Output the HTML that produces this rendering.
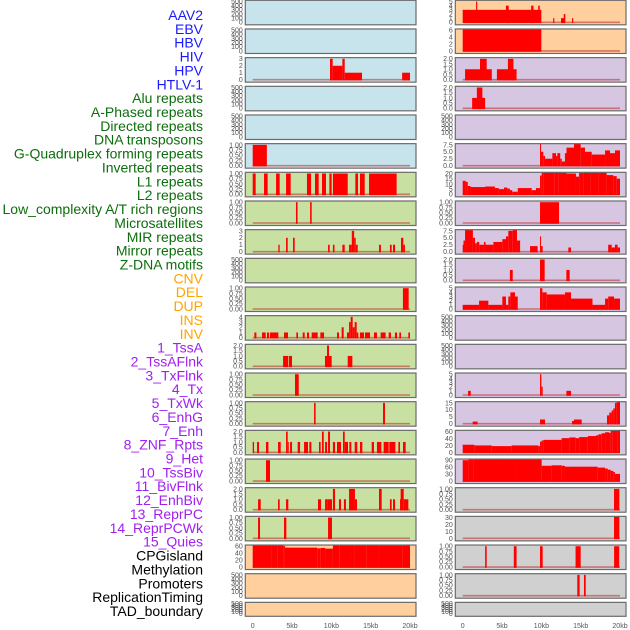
<!DOCTYPE html>
<html><head><meta charset="utf-8"><style>
html,body{margin:0;padding:0;background:#fff;}
svg{display:block;font-family:"Liberation Sans",sans-serif;}
</style></head><body>
<svg id="chart" width="630" height="630" viewBox="0 0 630 630" xmlns="http://www.w3.org/2000/svg"></svg>
<script>
const rowLabels = ["AAV2","EBV","HBV","HIV","HPV","HTLV-1","Alu repeats","A-Phased repeats","Directed repeats","DNA transposons","G-Quadruplex forming repeats","Inverted repeats","L1 repeats","L2 repeats","Low_complexity A/T rich regions","Microsatellites","MIR repeats","Mirror repeats","Z-DNA motifs","CNV","DEL","DUP","INS","INV","1_TssA","2_TssAFlnk","3_TxFlnk","4_Tx","5_TxWk","6_EnhG","7_Enh","8_ZNF_Rpts","9_Het","10_TssBiv","11_BivFlnk","12_EnhBiv","13_ReprPC","14_ReprPCWk","15_Quies","CPGisland","Methylation","Promoters","ReplicationTiming","TAD_boundary"];
const labelGroups = [6,13,5,15,5];
const groupColors = ["#1a1aff","#0c6e0c","#ffa500","#a020f0","#000000"];
const xTickValues = [0,5,10,15,20];
const xTickLabels = ["0","5kb","10kb","15kb","20kb"];
const leftBg = ["b","b","b","b","b","b","g","g","g","g","g","g","g","g","g","g","g","g","g","o","o","o"];
const rightBg = ["o","o","p","p","p","p","p","p","p","p","p","p","p","p","p","p","p","g2","g2","g2","g2","g2"];
const E=[[0,100,200,300,400,500],0], U1=[[0,0.25,0.5,0.75,1],2], T2=[[0,0.5,1,1.5,2],1];
const leftTicks = [E,E,[[0,1,2,3],0],E,E,U1,U1,U1,[[0,1,2,3],0],E,U1,[[0,1,2,3,4],0],T2,U1,U1,T2,U1,T2,U1,[[0,20,40,60],0],E,E];
const rightTicks = [[[0,1,2,3,4,5],0],[[0,2,4,6],0],T2,T2,E,[[0,2.5,5,7.5],1],[[0,5,10,15,20],0],U1,[[0,2.5,5,7.5],1],T2,[[0,1,2,3,4,5],0],E,E,[[0,1,2,3,4,5],0],[[0,5,10,15],0],[[0,20,40,60],0],[[0,30,60,90],0],U1,[[0,10,20,30],0],U1,U1,E];
// bars: [startKb, endKb, value]
const leftBars = [
 [],[],
 [[9.83,10.17,3],[10.17,11.4,2],[11.4,11.7,3],[11.7,13.9,1],[19.0,20,1]],
 [],[],
 [[0,1.8,1]],
 [[0,0.38,1],[1.44,1.9,1],[2.97,3.43,1],[4.24,4.83,1],[6.9,7.42,1],[7.92,8.39,1],[8.81,9.32,1],[9.75,10.04,1],[10.2,12.08,1],[13.05,13.39,1],[13.64,14.24,1],[14.79,18.3,1]],
 [[5.5,5.7,1],[7.3,7.5,1]],
 [[3.26,3.43,1],[4.24,4.45,2],[5.13,5.34,2],[9.58,9.79,1],[10.2,10.4,1],[11.4,11.7,1],[12.25,12.6,1],[12.6,12.9,3],[12.9,13.1,2],[13.1,13.35,1],[16.06,16.3,1],[17.45,17.67,1],[17.84,18.1,1],[18.86,19.15,2],[19.15,19.36,1]],
 [],
 [[19.1,19.83,1]],
 [[0.21,0.47,1],[1.19,1.65,1],[1.82,2.08,1],[2.2,3.26,1],[3.98,4.49,1],[5.55,5.76,1],[6.36,6.61,1],[6.9,7.16,1],[7.5,8.26,1],[8.6,9.07,1],[10.72,10.97,1],[11.31,11.57,2],[11.99,12.25,1],[12.25,12.46,3],[12.46,12.71,4],[12.71,12.97,2],[12.97,13.22,3],[13.22,13.43,1],[13.64,14.15,1],[14.28,14.92,1],[15.42,15.8,1],[16.27,16.9,1],[17.29,17.58,1],[18.09,18.35,1],[18.64,18.86,1],[19.79,20,1]],
 [[3.86,4.49,1],[4.58,5.0,1],[9.19,9.45,1],[9.45,9.7,2],[9.7,10.04,1],[12.08,12.67,1]],
 [[5.38,5.85,1]],
 [[7.8,8.0,1],[16.57,16.82,1]],
 [[0,0.17,1],[0.55,0.8,1],[1.69,2.0,1],[3.22,3.56,1],[4.24,4.45,2],[4.45,4.58,1],[4.75,5.0,1],[5.72,6.02,1],[6.53,7.03,1],[7.2,7.46,1],[8.43,8.64,1],[8.81,9.03,2],[9.2,9.45,1],[9.58,9.83,2],[10.2,10.47,1],[10.72,11.23,1],[11.48,11.7,2],[11.7,12.12,1],[12.29,12.54,1],[12.97,13.3,1],[13.64,13.94,1],[15.13,15.42,1],[15.8,16.36,1],[16.65,17.29,1],[17.37,18.14,1],[18.52,18.73,1],[19.11,19.45,1]],
 [[1.69,2.2,1]],
 [[0.68,1.02,1],[3.22,3.43,1],[4.24,4.53,1],[8.3,8.69,1],[9.2,9.53,1],[9.53,10.08,1],[10.2,10.47,2],[10.97,11.23,1],[11.6,11.86,1],[12.25,13.0,2],[13.0,13.26,1],[16.06,16.4,2],[17.45,17.67,1],[17.84,18.1,1],[18.73,18.81,1],[18.81,19.2,2],[19.2,19.79,1]],
 [[0.68,0.93,1],[3.98,4.28,1],[9.58,10.08,1]],
 [[0,0.8,63],[0.8,2.4,65],[2.4,3.2,66],[3.2,3.9,63],[3.9,4.1,61],[4.1,8.2,56],[8.2,8.6,54],[8.6,9.2,55],[9.2,10.2,53],[10.2,11,65],[11,12.5,66],[12.5,13,68],[13,14.5,65],[14.5,16,64],[16,19,62],[19,20,64]],
 [],[]
];
const rightBars = [
 [[0,10,3],[1.7,1.85,5],[5.5,5.85,4],[8.7,9.0,4],[9.6,9.8,4],[11.5,11.65,1],[12.5,12.9,1],[12.85,13.05,2],[13.9,14.05,1]],
 [[0,10,6.3]],
 [[0.3,3.7,1],[2.2,3.05,2],[4.35,6.85,1],[5.75,6.45,2]],
 [[1.2,2.85,1],[1.8,2.5,2]],
 [],
 [[9.83,9.96,8.5],[9.96,10.25,5],[10.25,10.47,3.5],[10.47,11.4,2.5],[11.4,11.86,4.5],[11.86,12.03,3.5],[12.03,12.4,4.5],[12.4,12.6,2.5],[12.6,13,1.5],[13,13.2,4.5],[13.2,14.15,6.5],[14.15,15,9.5],[15,15.55,6.5],[15.55,16.4,5],[16.4,18.1,4],[18.1,18.73,5.5],[18.73,19.36,4.5],[19.36,20,5.5]],
 [[0,0.38,13],[0.38,0.64,12],[0.64,1.0,8],[1.0,2.84,7],[2.84,4.1,7.5],[4.1,4.6,6],[4.6,5.25,5],[5.25,5.68,6.5],[5.68,6.0,5.5],[6.0,6.3,4],[6.3,7.0,2.5],[7.0,8.77,6],[8.77,9.32,4],[9.32,9.83,6],[9.83,10.04,18],[10.04,10.25,21],[10.25,11.65,23],[11.65,12.16,21],[12.16,13.2,23.5],[13.2,14.4,20],[14.4,14.8,17],[14.8,15.34,20.5],[15.34,16.2,21.5],[16.2,17.25,22.5],[17.25,18.3,21],[18.3,19.15,18.5],[19.15,19.58,17.5],[19.58,20,15]],
 [[9.83,12.25,1]],
 [[0,0.1,2.5],[0.1,0.3,4],[0.3,0.8,8],[0.8,1.3,9],[1.3,1.57,5],[1.57,1.8,3],[1.8,2.1,3.5],[2.1,2.7,2.5],[2.7,2.9,3.5],[2.9,3.9,2.5],[3.9,5.04,3.5],[5.04,5.5,4.5],[5.5,5.8,5.5],[5.8,6.36,7.5],[6.36,6.9,8],[6.9,7.3,4],[8.56,9.53,2],[9.83,9.96,5.5],[9.96,10.17,2],[13.43,13.77,1.5],[18.5,18.94,2.5],[18.94,19.36,1.5],[19.36,19.7,2.5],[19.7,20,1.5]],
 [[6.0,6.36,1],[9.83,10.42,2],[13.18,13.6,1]],
 [[0,2.08,1],[2.08,3.26,2],[3.26,5.04,1],[5.04,5.5,3],[5.5,5.8,1],[5.8,6.06,3],[6.06,6.65,4],[6.65,7.0,3],[9.83,10.13,5],[10.13,10.68,4],[10.68,13.0,3.5],[13.0,13.77,4],[13.77,16.5,2.5],[16.5,18.1,1],[18.1,18.5,2.5],[18.5,19.24,3],[19.24,20,2.5]],
 [],[],
 [[0.68,1.02,1],[9.83,10.0,5],[10.0,10.17,2],[13.18,13.77,1]],
 [[1.27,1.9,1.5],[9.83,10.47,3],[13.9,14.15,2],[14.15,15.13,3],[18.35,18.64,6],[18.64,18.94,8],[18.94,19.15,9.5],[19.15,19.36,11],[19.36,19.58,15],[19.58,20,18]],
 [[0,1.48,22],[1.48,3.7,20],[3.7,6.23,18],[6.23,9.62,20],[9.62,9.83,18],[9.83,10.04,31],[10.04,10.25,34],[10.25,12.58,36],[12.58,13.56,41],[13.56,14.36,43],[14.36,14.8,41],[14.8,15.9,44],[15.9,16.95,47],[16.95,17.25,49],[17.25,17.67,52],[17.67,18.1,55],[18.1,18.6,58],[18.6,18.81,56],[18.81,19.07,62],[19.07,19.66,67],[19.66,20,65]],
 [[0,0.72,90],[0.72,1.36,93],[1.36,3.47,98],[3.47,5.25,101],[5.25,6.78,98],[6.78,10.04,101],[10.04,11.31,66],[11.31,12.58,68],[12.58,13,66],[13,17.16,62],[17.16,18.1,58],[18.1,18.45,54],[18.45,18.81,49],[18.81,19.15,44],[19.15,19.36,39],[19.36,20,31]],
 [[19.24,19.92,1]],
 [[19.24,19.92,40]],
 [[2.85,3.05,1],[6.5,6.85,1],[9.83,10.17,1],[14.35,15.0,1],[19.25,19.9,1]],
 [[14.57,14.87,1],[15.42,15.64,1]],
 []
];

const NS="http://www.w3.org/2000/svg";
const svg=document.getElementById('chart');
const bgColors={b:"#c7e3eb",g:"#c8e0a2",o:"#ffcf9e",p:"#d6c6e2",g2:"#d0d0d0"};
const colX=[245.3,455.3], colW=170.7, rowPitch=28.67, rowH=24.5;
function xScale(col,kb){return colX[col]+7.4+kb*7.865;}
function mk(tag,attrs){const e=document.createElementNS(NS,tag);for(const k in attrs)e.setAttribute(k,attrs[k]);return e;}

let gi=0,cnt=0;
rowLabels.forEach((t,i)=>{
  while(cnt>=labelGroups[gi]){cnt=0;gi++;}
  cnt++;
  const tx=mk('text',{x:203,y:(20+13.86*i).toFixed(1),'text-anchor':'end','font-size':'14',fill:groupColors[gi]});
  tx.textContent=t;
  
  
  svg.appendChild(tx);
});

function drawPanel(col,row,bg,ticks,bars){
  const top=0.3+row*rowPitch;
  const bottom=Math.min(top+rowH,616.3);
  const h=bottom-top;
  const x0=colX[col];
  const g=mk('g',{});
  
  
  svg.appendChild(g);
  const cid='c'+col+'_'+row;
  const cp=mk('clipPath',{id:cid});cp.appendChild(mk('rect',{x:x0,y:top,width:colW,height:h}));g.appendChild(cp);
  g.appendChild(mk('rect',{x:x0,y:top,width:colW,height:h,fill:bgColors[bg]}));
  const tv=ticks[0],dec=ticks[1],tmax=tv[tv.length-1];
  const y0=bottom-2.5,y1=top+1.2;
  const ys=v=>y0-(v/tmax)*(y0-y1);
  tv.forEach(v=>{
    const t=mk('text',{x:x0-2.5,y:(ys(v)+2.4).toFixed(1),'text-anchor':'end','font-size':'7',fill:'#505050'});
    t.textContent=v.toFixed(dec);
    
    
    g.appendChild(t);
  });
  const bg2=mk('g',{'clip-path':'url(#'+cid+')'});g.appendChild(bg2);
  if(bars.length){
    const bl=mk('line',{x1:xScale(col,0),x2:xScale(col,20),y1:y0,y2:y0,stroke:'rgba(190,40,40,0.55)','stroke-width':1.6});
    
    
    bg2.appendChild(bl);
  }
  bars.forEach(b=>{
    const xa=xScale(col,b[0]),xb=xScale(col,b[1]);
    const yt=ys(b[2]);
    const r=mk('rect',{x:xa.toFixed(2),y:yt.toFixed(2),width:Math.max(0.9,xb-xa).toFixed(2),height:(y0-yt+0.8).toFixed(2),fill:'#ff0000'});
    
    
    bg2.appendChild(r);
  });
  g.appendChild(mk('rect',{x:x0,y:top,width:colW,height:h,fill:'none',stroke:'#6b6b6b','stroke-width':1.2}));
}
for(let r=0;r<22;r++){
  drawPanel(0,r,leftBg[r],leftTicks[r],leftBars[r]);
  drawPanel(1,r,rightBg[r],rightTicks[r],rightBars[r]);
}
[0,1].forEach(col=>{
  xTickValues.forEach((v,i)=>{
    const t=mk('text',{x:xScale(col,v).toFixed(1),y:628,'text-anchor':'middle','font-size':'7',fill:'#555'});
    t.textContent=xTickLabels[i];
    
    
    svg.appendChild(t);
  });
});
</script>
</body></html>
